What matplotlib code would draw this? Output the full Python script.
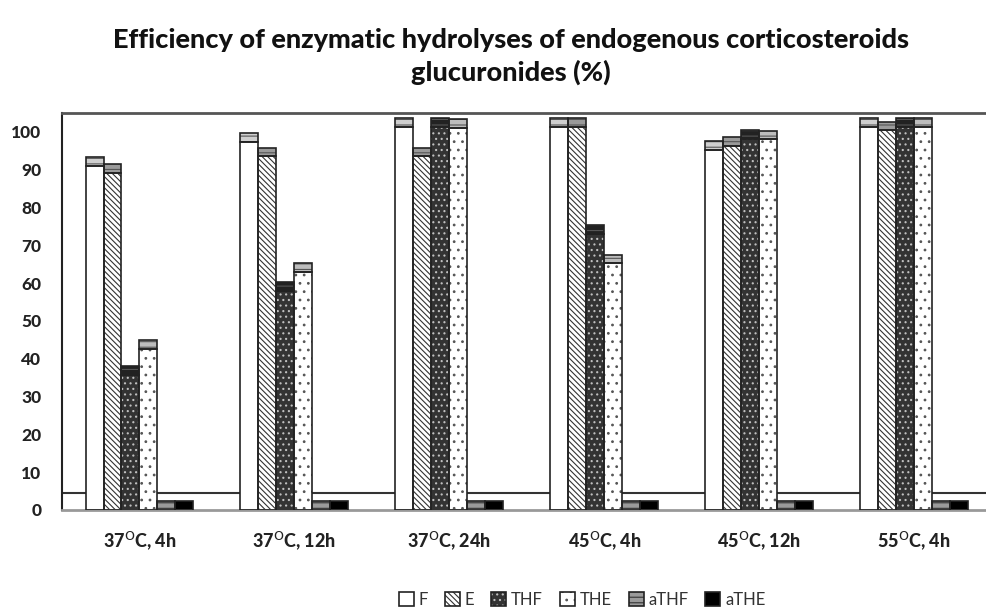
import numpy as np
import matplotlib.pyplot as plt
from matplotlib.patches import Patch
from matplotlib.legend_handler import HandlerTuple

plt.rcParams['font.family'] = ['Lato', 'DejaVu Sans']
plt.rcParams['hatch.linewidth'] = 0.8

conditions = ['37$^{\\mathrm{O}}$C, 4h', '37$^{\\mathrm{O}}$C, 12h', '37$^{\\mathrm{O}}$C, 24h',
              '45$^{\\mathrm{O}}$C, 4h', '45$^{\\mathrm{O}}$C, 12h', '55$^{\\mathrm{O}}$C, 4h']
series = ['F', 'E', 'THF', 'THE', 'aTHF', 'aTHE']

# bar tops (%)
F = [93.4, 99.7, 103.7, 103.7, 97.6, 103.7]
E = [91.5, 95.8, 95.8, 103.7, 98.6, 102.7]
THF = [38.0, 60.3, 103.7, 75.4, 100.5, 103.7]
THE = [45.0, 65.3, 103.4, 67.5, 100.3, 103.7]
aTHF = [2.5, 2.5, 2.5, 2.5, 2.5, 2.5]
aTHE = [2.5, 2.5, 2.5, 2.5, 2.5, 2.5]
values = [F, E, THF, THE, aTHF, aTHE]

# face, hatch, hatch colour, cap face
styles = [
    ('white', '', 'black', '#cfcfcf'),
    ('white', '\\\\\\\\\\\\', '#333333', '#9a9a9a'),
    ('#333333', '...', '#c0c0c0', '#222222'),
    ('white', '..', '#555555', '#bdbdbd'),
    ('#9a9a9a', '---', '#333333', None),
    ('black', '', 'black', None),
]
cap = 2.3

fig = plt.figure(figsize=(9.87, 6.14), dpi=100)
ax = fig.add_axes([0.0628, 0.1694, 0.9372, 0.6466])

x = np.arange(len(conditions))
w = 0.116
ax.axhline(4.5, color='#333333', lw=1.5, zorder=0.5)
for i, (vals, st) in enumerate(zip(values, styles)):
    face, hatch, hcol, capface = st
    pos = x + (i - 2.5) * w
    vals = np.array(vals)
    if capface is None:
        ax.bar(pos, vals, w, color=face, hatch=hatch, edgecolor=hcol, lw=0, zorder=2)
        ax.bar(pos, vals, w, fill=False, edgecolor='#222222', lw=1.2, zorder=3)
    else:
        body = vals - cap
        ax.bar(pos, body, w, color=face, hatch=hatch, edgecolor=hcol, lw=0, zorder=2)
        ax.bar(pos, body, w, fill=False, edgecolor='#222222', lw=1.2, zorder=3)
        ax.bar(pos, cap, w, bottom=body, color=capface, hatch='---', edgecolor='#555555', lw=0, zorder=2)
        ax.bar(pos, cap, w, bottom=body, fill=False, edgecolor='#222222', lw=1.2, zorder=3)

ax.set_xlim(-0.5, 5.47)
ax.set_ylim(0, 105)
ax.set_yticks(np.arange(0, 101, 10))
ax.set_xticks(x)
ax.set_xticklabels(conditions, fontsize=13, fontweight='black', color='#222222')
ax.tick_params(axis='y', length=0, pad=15, labelsize=12.5, labelcolor='#222222')
ax.tick_params(axis='x', length=0, pad=14)
for t in ax.get_yticklabels():
    t.set_fontweight('black')

ax.spines['right'].set_visible(False)
ax.spines['left'].set_linewidth(1.5)
ax.spines['left'].set_color('#222222')
ax.spines['top'].set_linewidth(2)
ax.spines['top'].set_color('#555555')
ax.spines['bottom'].set_linewidth(2)
ax.spines['bottom'].set_color('#999999')

fig.text(0.518, 0.908, 'Efficiency of enzymatic hydrolyses of endogenous corticosteroids\nglucuronides (%)',
         ha='center', va='center', fontsize=19.5, fontweight='black', linespacing=1.35, color='#111111')

handles = []
for face, hatch, hcol, capface in styles:
    handles.append((Patch(facecolor=face, hatch=hatch, edgecolor=hcol, lw=0),
                    Patch(fill=False, edgecolor='#222222', lw=1.2)))
fig.legend(handles, series, loc='center', bbox_to_anchor=(0.59, 0.023), ncol=6, frameon=False,
           handlelength=0.9, handleheight=0.9, handletextpad=0.3, columnspacing=1.0,
           fontsize=12, labelcolor='#333333', handler_map={tuple: HandlerTuple(ndivide=1)})

fig.savefig('out.png', dpi=100)
